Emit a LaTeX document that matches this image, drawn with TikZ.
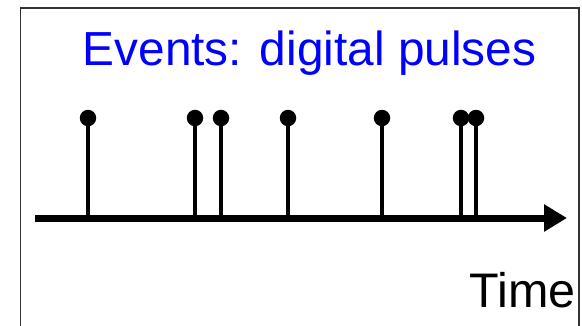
\documentclass[tikz,border=0pt]{standalone}
\usepackage{fontspec}
\setmainfont{Liberation Sans}
\usetikzlibrary{arrows.meta}
\begin{document}
\begin{tikzpicture}[x=1pt,y=-1pt,
  lbl/.style={inner sep=0pt,font=\fontsize{48.5}{58}\selectfont},
  stem/.style={line width=4.5pt,black},
  dot/.style={circle,fill=black,inner sep=0pt,minimum size=16.5pt},
  axisline/.style={line width=7pt,black,-{Triangle[length=23pt,width=26pt]}}]
\useasboundingbox (0,0) rectangle (582,325);
\draw[line width=1.5pt,black!80] (20.7,340) -- (20.7,8) -- (579,8) -- (579,340);
\node[lbl,text=blue,anchor=base,font=\fontsize{47.8}{58}\selectfont] (title) at (309.5,65) {Events: digital pulses};
\node[lbl,anchor=base east] (time) at (576,307) {Time};
\coordinate (a0) at (35,218);
\coordinate (a1) at (567,218);
\foreach \i/\x in {1/88,2/195,3/221,4/288,5/382,6/461,7/476}{
  \coordinate (b\i) at (\x,218);
  \node[dot] (p\i) at (\x,118) {};
  \draw[stem] (b\i) -- (p\i.center);
}
\draw[axisline] (a0) -- (a1);
\end{tikzpicture}
\end{document}
